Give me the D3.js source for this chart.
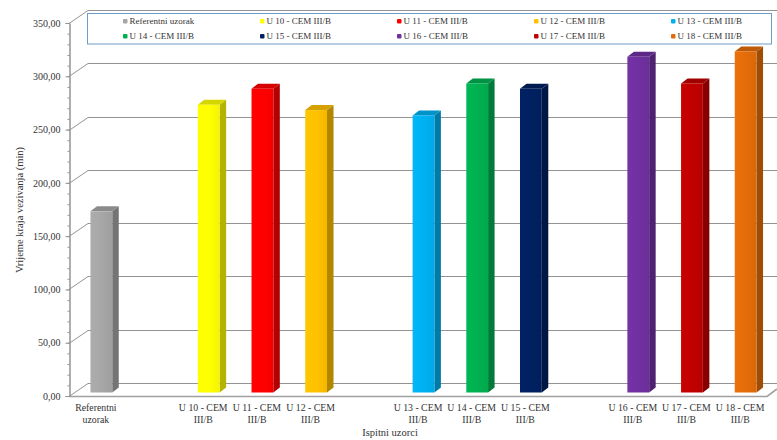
<!DOCTYPE html>
<html>
<head>
<meta charset="utf-8">
<script src="https://cdn.jsdelivr.net/npm/d3@7"></script>
<style>
html,body{margin:0;padding:0;background:#fff}
svg{display:block}
text{font-family:"Liberation Serif",serif;fill:#333}
</style>
</head>
<body>
<svg id="chart" width="777" height="440"></svg>
<script>
// Empty strings are the gaps between sample groups on the category axis.
const categories = ["Referentni uzorak","","U 10 - CEM III/B","U 11 - CEM III/B","U 12 - CEM III/B","",
  "U 13 - CEM III/B","U 14 - CEM III/B","U 15 - CEM III/B","",
  "U 16 - CEM III/B","U 17 - CEM III/B","U 18 - CEM III/B"];
const values = [170,null,270,285,265,null,260,290,285,null,315,290,320];
const colors = ["#a6a6a6",null,"#ffff00","#ff0000","#ffc000",null,"#00b0f0","#00b050","#002060",null,"#7030a0","#c00000","#e36c09"];
const yTicks = [0,50,100,150,200,250,300,350];
const legendOrder = [0,2,3,4,6,7,8,10,11,12];

const svg = d3.select("#chart");
const slotKeys = d3.range(categories.length);
const xScale = d3.scaleBand().domain(slotKeys).range([69,767]);
const yScale = d3.scaleLinear().domain([0,350]).range([396,23]);
const fmt = v => d3.format(".2f")(v).replace(".",",");

// Depth offset of the back wall, and of a bar's own side and top faces.
const wall = {dx:19, dy:-13};
const bar = {w:21.8, dx:6.5, dy:-5, shift:5.5, lift:-3.5};

const defs = svg.append("defs");
slotKeys.filter(i => values[i] !== null).forEach(i => {
  const g = defs.append("linearGradient").attr("id","front"+i);
  const c = d3.color(colors[i]);
  g.append("stop").attr("offset","0%").attr("stop-color",c.brighter(0.12));
  g.append("stop").attr("offset","55%").attr("stop-color",c);
  g.append("stop").attr("offset","100%").attr("stop-color",c.darker(0.12));
});

// Back wall gridlines with the diagonal joining each to its axis tick.
const grid = svg.append("g").attr("fill","none").attr("stroke","#939393").attr("stroke-width",1);
yTicks.forEach(v => {
  const py = Math.round(yScale(v))+0.5;
  grid.append("path").attr("d",`M69,${py}L${69+wall.dx},${py+wall.dy}H777`);
});

// Floor edge along the front.
svg.append("path").attr("fill","none").attr("stroke","#a0a0a0").attr("stroke-width",1.6)
  .attr("d",`M69,${yScale(0)+0.5}H767L777,${yScale(0)-7}`);

// Value axis, with minor ticks every ten units.
const axis = svg.append("g").attr("transform","translate(69.5,0)");
axis.call(d3.axisLeft(yScale).tickValues(yTicks).tickFormat(fmt).tickSize(4).tickPadding(5));
axis.append("g").call(d3.axisLeft(yScale).tickValues(d3.range(0,351,10)).tickFormat("").tickSize(2));
axis.selectAll("path,line").attr("stroke","#939393");
axis.selectAll("text").attr("font-size",10).attr("font-family","Liberation Serif").attr("fill","#333");

// Three faces per bar: front, side and top.
const bars = svg.append("g").selectAll("g")
  .data(slotKeys.filter(i => values[i] !== null)).join("g");
const barLeft = i => xScale(i)+(xScale.bandwidth()-bar.w)/2+bar.shift;
const barBase = yScale(0)+bar.lift;
const barTop = i => yScale(values[i])+bar.lift;
bars.append("path").attr("fill",i => d3.color(colors[i]).darker(1))
  .attr("d",i => { const r=barLeft(i)+bar.w;
    return `M${r},${barBase}L${r+bar.dx},${barBase+bar.dy}L${r+bar.dx},${barTop(i)+bar.dy}L${r},${barTop(i)}Z`; });
bars.append("path").attr("fill",i => d3.color(colors[i]).darker(0.5))
  .attr("d",i => { const l=barLeft(i), t=barTop(i);
    return `M${l},${t}L${l+bar.dx},${t+bar.dy}H${l+bar.w+bar.dx}L${l+bar.w},${t}Z`; });
bars.append("rect").attr("x",barLeft).attr("y",barTop)
  .attr("width",bar.w).attr("height",i => barBase-barTop(i)).attr("fill",i => `url(#front${i})`);

// Category labels: names wrap before the cement class or second word.
const labels = svg.append("g").attr("font-size",9.8).attr("text-anchor","middle");
slotKeys.filter(i => categories[i]).forEach(i => {
  const name = categories[i];
  const cut = name.startsWith("U ") ? name.lastIndexOf(" ") : name.indexOf(" ");
  const cx = xScale(i)+xScale.bandwidth()/2;
  const t = labels.append("text").attr("x",cx).attr("y",411);
  t.append("tspan").attr("x",cx).text(name.slice(0,cut));
  t.append("tspan").attr("x",cx).attr("dy",12).text(name.slice(cut+1));
});

// Axis titles.
svg.append("text").attr("x",390).attr("y",436).attr("text-anchor","middle")
  .attr("font-size",10.5).text("Ispitni uzorci");
svg.append("text").attr("transform","translate(23,210) rotate(-90)").attr("text-anchor","middle")
  .attr("font-size",10.5).text("Vrijeme kraja vezivanja (min)");

// Legend in two rows of five.
svg.append("rect").attr("x",87.5).attr("y",13.5).attr("width",684).attr("height",30.5)
  .attr("fill","#fff").attr("stroke","#6f9bc8").attr("stroke-width",1);
const legendX = d3.scaleLinear().domain([0,4]).range([123,671]);
const legendY = d3.scaleLinear().domain([0,1]).range([21,36]);
const items = svg.append("g").selectAll("g").data(legendOrder).join("g")
  .attr("transform",(d,k) => `translate(${legendX(k%5)},${legendY(Math.floor(k/5))})`);
items.append("rect").attr("x",0).attr("y",-2).attr("width",4.5).attr("height",4.5)
  .attr("rx",1).attr("fill",d => colors[d]);
items.append("text").attr("x",6.5).attr("y",3).attr("font-size",9).text(d => categories[d]);
</script>
</body>
</html>
